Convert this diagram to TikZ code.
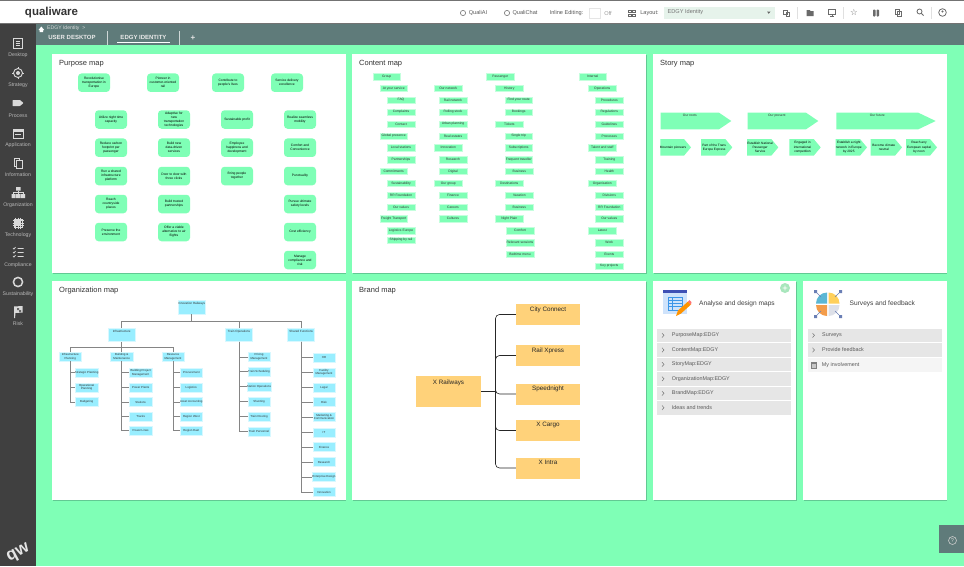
\documentclass[tikz,border=0pt]{standalone}
\usepackage{fontspec}
\setmainfont{Liberation Sans}
\newfontfamily\symf{DejaVu Sans}
\usetikzlibrary{calc}
\definecolor{pagegreen}{HTML}{7FFFB6}
\definecolor{shadowgreen}{HTML}{62C993}
\definecolor{boxedge}{HTML}{C4FFDD}
\definecolor{orgblue}{HTML}{99EEFF}
\definecolor{orgedge}{HTML}{D8F8FF}
\definecolor{brandorange}{HTML}{FFD27A}
\definecolor{sidedark}{HTML}{404040}
\definecolor{subbar}{HTML}{5F7B7A}
\definecolor{iconlight}{HTML}{D9D9D9}
\definecolor{iconmid}{HTML}{6A6A6A}
\definecolor{rowgrey}{HTML}{E6E6E6}
\definecolor{dropfill}{HTML}{E6F3EB}
\definecolor{docfill}{HTML}{CFE3FB}
\definecolor{docband}{HTML}{3F51B5}
\definecolor{docline}{HTML}{3D96E8}
\definecolor{piesquare}{HTML}{6A7FB5}
\definecolor{pieblue}{HTML}{5BB7D5}
\definecolor{pieyellow}{HTML}{FFD05B}
\definecolor{pieorange}{HTML}{F39C4A}
\definecolor{piegrey}{HTML}{DDE0E8}
\definecolor{plusgreen}{HTML}{A8E6BC}
\newcommand{\tinytxt}{\fontsize{3.3}{4}\selectfont}
\tikzset{
  x=1pt,y=-1pt,
  purp/.style={fill=pagegreen,rounded corners=3.5pt,minimum width=32pt,minimum height=18.5pt,inner sep=0pt,align=center,font=\tinytxt,text=black},
  cont/.style={fill=pagegreen,draw=boxedge,line width=.5pt,minimum width=27.5pt,minimum height=6.5pt,inner sep=0pt,align=center,font=\tinytxt,text=black!80},
  orgleaf/.style={fill=orgblue,draw=orgedge,line width=.5pt,minimum width=22.5pt,minimum height=9pt,inner sep=0pt,align=center,font=\fontsize{2.9}{3.6}\selectfont,text=black!80},
  orgbig/.style={fill=orgblue,draw=orgedge,line width=.5pt,minimum width=27pt,minimum height=13.4pt,inner sep=0pt},
  tiny/.style={font=\tinytxt,text=black!80,inner sep=0pt,align=center},
  orgline/.style={draw=black!48,line width=.6pt},
  brandbox/.style={fill=brandorange,inner sep=0pt},
  brandtxt/.style={font=\fontsize{6.3}{7.5}\selectfont,text=black!85,inner sep=0pt},
  brandline/.style={draw=black!85,line width=.6pt,rounded corners=4pt},
  title/.style={font=\fontsize{7.5}{9}\selectfont,text=black!80,inner sep=0pt,anchor=west},
  sidelab/.style={font=\fontsize{5.2}{6}\selectfont,text=iconlight!85!black,inner sep=0pt},
  rowtxt/.style={font=\fontsize{5.4}{6.5}\selectfont,text=black!65,inner sep=0pt,anchor=west},
  toptxt/.style={font=\fontsize{5.6}{6.5}\selectfont,text=black!65,inner sep=0pt},
  tabtxt/.style={font=\bfseries\fontsize{6}{7}\selectfont,text=white!92!black,inner sep=0pt},
  ic/.style={draw=iconmid,line width=.8pt,fill=none},
}
\newcommand{\cardbox}[5]{\fill[shadowgreen] (#2+.6,#3+1) rectangle (#4+.6,#5+1);
  \fill[white] (#2,#3) rectangle (#4,#5); \coordinate (#1) at (#2,#3);}
\newcommand{\pb}[4]{\node[purp] (#1) at (#2,#3) {#4};}
\newcommand{\cb}[4]{\node[cont] (#1) at (#2,#3) {#4};}
\newcommand{\ol}[4]{\node[orgleaf] (#1) at (#2,#3) {#4};}
\newcommand{\ob}[4]{\node[orgbig] (#1) at (#2,#3) {}; \node[tiny,anchor=north,font=\fontsize{3}{3.6}\selectfont] at ([yshift=-2pt]#1.north) {#4};}
\newcommand{\chev}[6]{\fill[pagegreen] (#1,#4) -- (#3,#4) -- (#2,{(#4+#5)/2}) -- (#3,#5) -- (#1,#5) -- cycle;
  \node[tiny,text=black,font=\fontsize{3.2}{4.3}\selectfont] at ({(#1+#3)/2+1},{(#4+#5)/2}) {#6};}
\newcommand{\bigchev}[6]{\fill[pagegreen] (#1,#4) -- (#3,#4) -- (#2,{(#4+#5)/2}) -- (#3,#5) -- (#1,#5) -- cycle;
  \node[tiny] at ({(#1+#3)/2},#4+3) {#6};}
\newcommand{\sideitem}[2]{\node[sidelab] at (18,#1) {#2};}
\newcommand{\rowr}[6]{\fill[#6] (#1,#3-6.8) rectangle (#2,#3+6.8);
  \node[rowtxt] at (#4,#3) {#5};}
\newcommand{\chevron}[2]{\draw[black!55,line width=.5pt] (#1-1,#2-2.2) -- (#1+1,#2) -- (#1-1,#2+2.2);}
\begin{document}
\begin{tikzpicture}
\useasboundingbox (0,0) rectangle (964,566);
\fill[pagegreen] (0,0) rectangle (964,566);
% ---- top bar
\fill[white] (0,0) rectangle (964,23);
\fill[black!55] (0,23) rectangle (964,24);
\fill[black!55] (0,0) rectangle (964,.8);
\node[font=\bfseries\fontsize{11.5}{13}\selectfont,text=black!80,inner sep=0pt] (logo) at (51.5,12.5) {qualiware};
\draw[black!55,line width=.6pt] (463,13) circle (2.6);
\draw[black!55,line width=.6pt] (507,13) circle (2.6);
\node[toptxt] (qai) at (478,13) {QualiAI};
\node[toptxt] (qch) at (525,13) {QualiChat};
\node[toptxt] (inl) at (566.5,13) {Inline Editing:};
\fill[black!10] (589,7.5) rectangle (601,18.5);
\fill[white] (590,8.5) rectangle (600,17.5);
\node[toptxt,text=black!40] (off) at (608,13) {Off};
\draw[black!60,line width=.7pt] (628.5,10) rectangle (631,12.3) (632.5,10) rectangle (635,12.3) (628.5,14) rectangle (631,16.3) (632.5,14) rectangle (635,16.3);
\node[toptxt] (lay) at (649.5,13) {Layout:};
\fill[dropfill] (664,6.5) rectangle (775,18.5);
\node[toptxt,anchor=west,text=black!55] (laybox) at (667.5,12.5) {EDGY Identity};
\fill[black!60] (767,11.5) -- (770.5,11.5) -- (768.75,13.8) -- cycle;
\draw[ic] (783.5,10) rectangle (787,14) (786,12.5) rectangle (789.5,16);
\fill[iconmid] (806.5,10) -- (809.5,10) -- (810.5,11) -- (813.5,11) -- (813.5,16) -- (806.5,16) -- cycle;
\draw[ic] (828.5,9.5) rectangle (835.5,14.5); \draw[ic] (832,14.5) -- (832,16.5) (830,16.5) -- (834,16.5);
\node[font=\symf\fontsize{8.5}{9}\selectfont,text=iconmid,inner sep=0pt] (st) at (854,12.5) {☆};
\fill[iconmid,rounded corners=.8pt] (873,9.5) rectangle (875.5,16.5) (876.5,9.5) rectangle (879,16.5);
\draw[ic] (895.5,9.5) rectangle (899,14.5) (897.5,11.5) rectangle (901,16.5);
\draw[ic] (919.5,11.5) circle (2.5); \draw[ic] (921.3,13.3) -- (923.5,15.5);
\draw[ic] (942.5,12.5) circle (3.8); \fill[iconmid] (942.5,11.5) circle (1.2);
\draw[black!12,line width=.5pt] (797,7) -- (797,19) (843,7) -- (843,19) (931.7,7) -- (931.7,19);
% ---- sub bar and side bar
\fill[subbar] (36,24) rectangle (964,45);
\fill[sidedark] (0,24) rectangle (36,566);
\fill[white] (38.5,30) -- (41.3,26.5) -- (44.2,30) -- (43.2,30) -- (43.2,32) -- (39.5,32) -- (39.5,30) -- cycle;
\node[font=\fontsize{5.1}{6}\selectfont,text=white!85!black,inner sep=0pt,anchor=west] (crumb) at (47,28.2) {EDGY Identity \ \textgreater};
\node[tabtxt] (tabA) at (72,37.5) {USER DESKTOP};
\node[tabtxt] (tabB) at (143.5,37.5) {EDGY IDENTITY};
\node[font=\bfseries\fontsize{8}{8}\selectfont,text=white!90!black,inner sep=0pt] (tabC) at (193,37.7) {+};
\fill[white] (117,42.2) rectangle (170,43);
\draw[white!70!subbar,line width=.4pt] (107.5,31) -- (107.5,45) (179.5,31) -- (179.5,45);
\sideitem{55.5}{Desktop}\sideitem{85.5}{Strategy}\sideitem{115.5}{Process}\sideitem{145.2}{Application}\sideitem{175}{Information}
\sideitem{205}{Organization}\sideitem{235}{Technology}\sideitem{265}{Compliance}\sideitem{294.5}{Sustainability}\sideitem{324}{Risk}
\begin{scope}[iconlight]
\draw[line width=.8pt] (13.5,38.5) rectangle (22,48); \draw[line width=.6pt] (15.5,41) -- (20,41) (15.5,43.2) -- (20,43.2) (15.5,45.4) -- (20,45.4);
\draw[line width=.9pt] (18,73) circle (4.5); \fill (18,73) circle (2); \draw[line width=.5pt] (18,67) -- (18,69) (18,77) -- (18,79) (12,73) -- (14,73) (22,73) -- (24,73);
\fill[rounded corners=.5pt] (12.5,100) -- (20,100) -- (23.5,103) -- (20,106) -- (12.5,106) -- cycle;
\draw[line width=.8pt] (13,129) rectangle (23.5,138); \fill (13,129) rectangle (23.5,131.5); \draw[line width=.5pt] (15,134) -- (21,134);
\draw[line width=.8pt] (14,158) rectangle (19.5,166); \draw[line width=.8pt,fill=sidedark] (16.5,160.5) rectangle (22,168.5);
\fill (16,187) rectangle (20.5,190.5) (11.5,194) rectangle (15.5,198) (16,194) rectangle (20.5,198) (21,194) rectangle (25,198);
\draw[line width=.5pt] (18,190.5) -- (18,194) (13.5,194) -- (13.5,192.2) -- (23,192.2) -- (23,194);
\draw[line width=.9pt] (14,219) rectangle (22,227); \fill (16,221) rectangle (20,225);
\draw[line width=.4pt] (15.5,217.5) -- (15.5,228.5) (18,217.5) -- (18,228.5) (20.5,217.5) -- (20.5,228.5) (12.5,220.5) -- (23.5,220.5) (12.5,223) -- (23.5,223) (12.5,225.5) -- (23.5,225.5);
\draw[line width=.7pt] (13,248) -- (14,249) -- (15.5,247) (13,252) -- (14,253) -- (15.5,251) (13,256) -- (14,257) -- (15.5,255) (17.5,248.5) -- (23.5,248.5) (17.5,252.5) -- (23.5,252.5) (17.5,256.5) -- (23.5,256.5);
\draw[line width=1.5pt] (18,282) circle (4.6);
\fill (14,306.5) -- (22.5,306) -- (22.5,312.5) -- (15.5,313) -- (15,318) -- (14,318) -- cycle;
\end{scope}
\fill[black!60] (17,308) rectangle (19,310) (19,310) rectangle (21,312);
\node[font=\bfseries\fontsize{17}{17}\selectfont,text=white!90!black,inner sep=0pt,rotate=28] (qw) at (18.5,553) {qw};
\fill[subbar] (939,525) rectangle (964,553);
\draw[white!80!black,line width=.6pt] (952.5,540.5) circle (4);
\node[font=\fontsize{5.5}{6}\selectfont,text=white!85!black,inner sep=0pt] (help) at (952.5,540.5) {?};
% ---- cards
\cardbox{cardP}{52}{53.5}{345.5}{273}
\cardbox{cardC}{352}{53.5}{646}{273}
\cardbox{cardS}{653}{53.5}{946.5}{273}
\cardbox{cardO}{52}{281}{345.5}{500}
\cardbox{cardB}{352}{281}{646}{500}
\cardbox{cardA}{653}{280.5}{796}{500}
\cardbox{cardF}{803}{280.5}{946.5}{500}
\node[title] (tP) at (59,63.4) {Purpose map};
\node[title] (tC) at (359,63.4) {Content map};
\node[title] (tS) at (660,63.4) {Story map};
\node[title] (tO) at (59,291) {Organization map};
\node[title] (tB) at (359,291) {Brand map};
% ---- purpose map
\pb{p1}{94}{82.7}{Revolutionise\\transportation in\\Europe}
\pb{p2}{163}{82.7}{Pioneer in\\customer-oriented\\rail}
\pb{p3}{228}{82.7}{Contribute to\\people's lives}
\pb{p4}{287}{82.7}{Service delivery\\excellence}
\pb{p5}{111}{119.5}{Utilize night time\\capacity}
\pb{p6}{174}{119.5}{Adaptive for\\new\\transportation\\technologies}
\pb{p7}{237}{119.5}{Sustainable profit}
\pb{p8}{300}{119.5}{Realize seamless\\mobility}
\pb{p9}{111}{147.7}{Reduce carbon\\footprint per\\passenger}
\pb{p10}{174}{147.7}{Build new\\data-driven\\services}
\pb{p11}{237}{147.7}{Employee\\happiness and\\development}
\pb{p12}{300}{147.7}{Comfort and\\Convenience}
\pb{p13}{111}{176}{Run a shared\\infrastructure\\platform}
\pb{p14}{174}{176}{Door to door with\\three clicks}
\pb{p15}{237}{176}{Bring people\\together}
\pb{p16}{300}{176}{Punctuality}
\pb{p17}{111}{204}{Reach\\countryside\\places}
\pb{p18}{174}{204}{Build trusted\\partnerships}
\pb{p19}{300}{204}{Pursue ultimate\\safety levels}
\pb{p20}{111}{232}{Preserve the\\environment}
\pb{p21}{174}{232}{Offer a viable\\alternative to air\\flights}
\pb{p22}{300}{232}{Cost efficiency}
\pb{p23}{300}{260}{Manage\\compliance and\\risk}
% ---- content map
\cb{a0}{386.7}{76.7}{Group}
\cb{a1}{393.7}{88.3}{At your service}
\cb{a2}{401}{100}{FAQ}
\cb{a3}{401}{112}{Complaints}
\cb{a4}{401}{124}{Contact}
\cb{a5}{393.7}{136}{Global presence}
\cb{a6}{401}{147.7}{Local stations}
\cb{a7}{401}{159.7}{Partnerships}
\cb{a8}{393.7}{171.3}{Commitments}
\cb{a9}{401}{183.3}{Sustainability}
\cb{a10}{401}{195}{RR Foundation}
\cb{a11}{401}{207}{Our values}
\cb{a12}{393.7}{218.7}{Freight Transport}
\cb{a13}{401}{230.7}{Logistics Europe}
\cb{a14}{401}{240}{Shipping by rail}
\cb{b1}{448.3}{88.3}{Our network}
\cb{b2}{453}{100}{Rail network}
\cb{b3}{453}{112}{Rolling stock}
\cb{b4}{453}{124}{Urban planning}
\cb{b5}{453}{136}{Real estates}
\cb{b6}{448.3}{147.7}{Innovation}
\cb{b7}{453}{159.7}{Research}
\cb{b8}{453}{171.3}{Digital}
\cb{b9}{448.3}{183.3}{Our group}
\cb{b10}{453}{195}{Finance}
\cb{b11}{453}{207}{Careers}
\cb{b12}{453}{218.7}{Cultures}
\cb{c0}{500.3}{76.7}{Passenger}
\cb{c1}{509.3}{88.3}{History}
\cb{c2}{518.7}{100}{Find your route}
\cb{c3}{518.7}{112}{Bookings}
\cb{c4}{509.3}{124}{Tickets}
\cb{c5}{518.7}{136}{Single trip}
\cb{c6}{518.7}{147.7}{Subscriptions}
\cb{c7}{518.7}{159.7}{Frequent traveller}
\cb{c8}{519.3}{171.3}{Business}
\cb{c9}{509.3}{183.3}{Destinations}
\cb{c10}{519.3}{195}{Vacation}
\cb{c11}{519.3}{207}{Business}
\cb{c12}{509.3}{218.7}{Night Plain}
\cb{c13}{520}{230.7}{Comfort}
\cb{c14}{520}{242.7}{Relevant sessions}
\cb{c15}{520}{254.3}{Bedtime menu}
\cb{d0}{592.7}{76.7}{Internal}
\cb{d1}{602.3}{88.3}{Operations}
\cb{d2}{609.3}{100}{Procedures}
\cb{d3}{609.3}{112}{Regulations}
\cb{d4}{609.3}{124}{Guidelines}
\cb{d5}{609.3}{136}{Processes}
\cb{d6}{602.3}{147.7}{Talent and staff}
\cb{d7}{609.3}{159.7}{Training}
\cb{d8}{609.3}{171.3}{Health}
\cb{d9}{602.3}{183.3}{Organisation}
\cb{d10}{609.3}{195}{Divisions}
\cb{d11}{609.3}{207}{RR Foundation}
\cb{d12}{609.3}{218.7}{Our values}
\cb{d13}{602.3}{230.7}{Latest}
\cb{d14}{609.3}{242.7}{Work}
\cb{d15}{609.3}{254.3}{Events}
\cb{d16}{609.3}{266}{Key projects}
% ---- story map
\bigchev{660.7}{731.3}{719}{112.7}{129.3}{Our roots}
\bigchev{747.7}{818.3}{806}{112.7}{129.3}{Our present}
\bigchev{836.3}{935.7}{918.3}{112.7}{129.3}{Our future}
\chev{660.3}{691}{684}{139}{155.7}{Mountain pioneers}
\chev{701}{732.3}{725.3}{139}{155.7}{Part of the Trans\\Europe Express}
\chev{747}{778.3}{771.3}{139}{155.7}{Establish National\\Passenger\\Service}
\chev{789.3}{820.7}{813.7}{139}{155.7}{Engaged in\\international\\competition}
\chev{835.7}{867}{860}{139}{155.7}{Establish a night\\network in Europe\\by 2025}
\chev{870.7}{902}{895}{139}{155.7}{Become climate\\neutral}
\chev{906}{937}{930}{139}{155.7}{Reach any\\European capital\\by noon}
% ---- organization map
\ob{root}{191.7}{307.3}{Innovation Railways}
\ob{inf}{121.7}{335}{Infrastructure}
\ob{top}{239}{335}{Train Operations}
\ob{shr}{301.2}{335}{Shared Functions}
\coordinate (orgbus) at (191.7,321.3);
\ol{ip}{70.3}{356.7}{Infrastructure\\Planning}
\ol{bm}{121.7}{356.7}{Building \&\\Maintenance}
\ol{rm}{173}{356.7}{Resource\\Management}
\coordinate (infbus) at (121.7,347);
\ol{ip1}{86.7}{372.7}{Strategic Planning}
\ol{ip2}{86.7}{387.3}{Operational\\Planning}
\ol{ip3}{86.7}{402}{Budgeting}
\ol{bm1}{140.7}{372.7}{Building Project\\Management}
\ol{bm2}{140.7}{387.3}{Power Plants}
\ol{bm3}{140.7}{402}{Stations}
\ol{bm4}{140.7}{416.3}{Tracks}
\ol{bm5}{140.7}{430.7}{Power Lines}
\ol{rm1}{191.3}{372.7}{Procurement}
\ol{rm2}{191.3}{387.3}{Logistics}
\ol{rm3}{191.3}{402}{Asset Accounting}
\ol{rm4}{191.3}{416.3}{Region West}
\ol{rm5}{191.3}{430.7}{Region East}
\ol{to1}{259}{357}{Pricing\\Management}
\ol{to2}{259}{371.3}{Train Scheduling}
\ol{to3}{259}{386.7}{Station Operations}
\ol{to4}{259}{401.3}{Shunting}
\ol{to5}{259}{416.3}{Train Routing}
\ol{to6}{259}{431.3}{Train Personnel}
\ol{sf1}{324}{357.3}{HR}
\ol{sf2}{324}{372.3}{Facility\\Management}
\ol{sf3}{324}{387.3}{Legal}
\ol{sf4}{324}{402}{Risk}
\ol{sf5}{324}{417}{Marketing \&\\Communication}
\ol{sf6}{324}{432.3}{IT}
\ol{sf7}{324}{447}{Finance}
\ol{sf8}{324}{462}{Research}
\ol{sf9}{324}{477}{Enterprise Design}
\ol{sf10}{324}{492}{Innovation}
\draw[orgline] (root.south) -- (orgbus) (inf.north) |- (orgbus) (top.north) |- (orgbus) (shr.north) |- (orgbus);
\draw[orgline] (inf.south) -- (infbus) (ip.north) |- (infbus) (bm.north) -- (infbus) (rm.north) |- (infbus);
\foreach \c in {ip1,ip2,ip3} \draw[orgline] (ip.south) |- (\c.west);
\foreach \c in {bm1,bm2,bm3,bm4,bm5} \draw[orgline] (bm.south) |- (\c.west);
\foreach \c in {rm1,rm2,rm3,rm4,rm5} \draw[orgline] (rm.south) |- (\c.west);
\foreach \c in {to1,to2,to3,to4,to5,to6} \draw[orgline] (top.south) |- (\c.west);
\foreach \c in {sf1,sf2,sf3,sf4,sf5,sf6,sf7,sf8,sf9,sf10} \draw[orgline] (shr.south) |- (\c.west);
% ---- brand map
\node[brandbox,minimum width=65pt,minimum height=31pt] (xr) at (448.5,391.5) {};
\node[brandtxt,anchor=north] at ([yshift=-3.5pt]xr.north) {X Railways};
\node[brandbox,minimum width=64pt,minimum height=21pt] (bc) at (548,314.5) {};
\node[brandbox,minimum width=64pt,minimum height=21pt] (br) at (548,355.5) {};
\node[brandbox,minimum width=64pt,minimum height=21pt] (bs) at (548,394) {};
\node[brandbox,minimum width=64pt,minimum height=21pt] (bk) at (548,430.5) {};
\node[brandbox,minimum width=64pt,minimum height=21pt] (bi) at (548,468) {};
\node[brandtxt,anchor=north] at ([yshift=-2.5pt]bc.north) {City Connect};
\node[brandtxt,anchor=north] at ([yshift=-2.5pt]br.north) {Rail Xpress};
\node[brandtxt,anchor=north] at ([yshift=-2.5pt]bs.north) {Speednight};
\node[brandtxt,anchor=north] at ([yshift=-2.5pt]bk.north) {X Cargo};
\node[brandtxt,anchor=north] at ([yshift=-2.5pt]bi.north) {X Intra};
\coordinate (bhub) at (495.5,391.5);
\draw[brandline] (xr.east) -- (bhub);
\foreach \c in {bc,br,bs,bk,bi} \draw[brandline] (bhub) |- (\c.west);
% ---- analyse card
\fill[docfill] (663,290) rectangle (687,314);
\fill[docband] (663,290) rectangle (687,293);
\draw[docline,line width=.8pt] (668,297) rectangle (682,310) (668,300) -- (682,300) (668,303) -- (682,303) (668,306.5) -- (682,306.5) (672,297) -- (672,310);
\fill[orange!85!yellow] (676,316) -- (678,310.5) -- (688,301.5) -- (691,304.5) -- (681,313.5) -- cycle;
\fill[red!55!white] (688,301.5) -- (689.5,300) -- (691.5,302) -- (691,304.5) -- cycle;
\node[font=\fontsize{6.6}{8}\selectfont,text=black!75,inner sep=0pt,anchor=west] (tA) at (699,303.3) {Analyse and design maps};
\fill[plusgreen] (785,288) circle (5);
\fill[white] (782.6,287.6) rectangle (787.4,288.4) (784.6,285.6) rectangle (785.4,290.4);
\rowr{657.3}{791}{335.3}{671.7}{PurposeMap:EDGY}{rowgrey}
\rowr{657.3}{791}{350}{671.7}{ContentMap:EDGY}{rowgrey}
\rowr{657.3}{791}{364.4}{671.7}{StoryMap:EDGY}{rowgrey}
\rowr{657.3}{791}{378.8}{671.7}{OrganizationMap:EDGY}{rowgrey}
\rowr{657.3}{791}{393.3}{671.7}{BrandMap:EDGY}{rowgrey}
\rowr{657.3}{791}{407.7}{671.7}{Ideas and trends}{rowgrey}
\chevron{663}{335.3}\chevron{663}{350}\chevron{663}{364.4}\chevron{663}{378.8}\chevron{663}{393.3}\chevron{663}{407.7}
% ---- surveys card
\fill[pieblue] (827,303.5) -- (816,303.5) arc[start angle=180,end angle=90,radius=11pt] -- cycle;
\fill[pieyellow] (828.5,303.5) -- (828.5,292.5) arc[start angle=90,end angle=0,radius=11pt] -- cycle;
\fill[pieorange] (827,305) -- (827,316) arc[start angle=270,end angle=180,radius=11pt] -- cycle;
\fill[piegrey] (828.5,305) -- (839.5,305) arc[start angle=0,end angle=-90,radius=11pt] -- cycle;
\fill[piesquare] (814,290) rectangle (817,293) (839,290) rectangle (842,293) (814,315) rectangle (817,318) (839,315) rectangle (842,318);
\draw[piesquare,line width=.5pt] (817,293) -- (821,297) (839,293) -- (835,297) (817,315) -- (821,311) (839,315) -- (835,311);
\node[font=\fontsize{6.6}{8}\selectfont,text=black!75,inner sep=0pt,anchor=west] (tF) at (849.5,303.3) {Surveys and feedback};
\rowr{807.7}{942}{335.3}{822}{Surveys}{rowgrey}
\rowr{807.7}{942}{350}{822}{Provide feedback}{rowgrey}
\rowr{807.7}{942}{365}{821.7}{My involvement}{black!4}
\chevron{813.5}{335.3}\chevron{813.5}{350}
\fill[black!50] (810.5,361.5) rectangle (817,368.5);
\fill[black!22] (812,364) rectangle (815.5,367.5);
\end{tikzpicture}
\end{document}
